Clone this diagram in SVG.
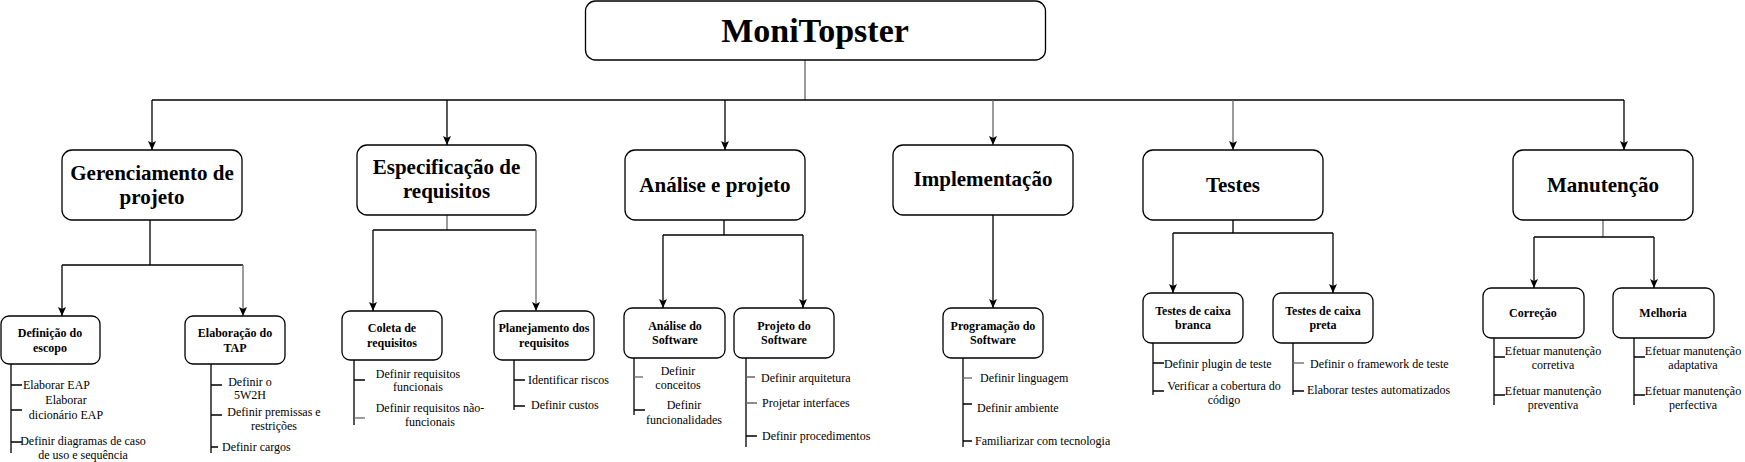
<svg xmlns="http://www.w3.org/2000/svg" width="1745" height="462" viewBox="0 0 1745 462">
<style>
text{font-family:"Liberation Serif","Times New Roman",serif;fill:#000}
.box{fill:#fff;stroke:#000;stroke-width:1.3}
.c{stroke:#000;stroke-width:1.3;fill:none}
.g{stroke:#666}
.t0{font-size:34px;font-weight:bold;text-anchor:middle}
.t1{font-size:21px;font-weight:bold;text-anchor:middle}
.t2{font-size:12px;font-weight:bold;text-anchor:middle}
.t3{font-size:12px}
.m{text-anchor:middle}
</style>
<defs>
<marker id="a" markerUnits="userSpaceOnUse" markerWidth="10" markerHeight="10" viewBox="0 0 10 10" refX="9" refY="5" orient="auto">
<path d="M0,1 L9,5 L0,9 L2,5 z" fill="#000"/>
</marker>
</defs>

<g id="connectors">
<path class="c g" d="M805,60 V100"/>
<path class="c" d="M152,100 H1624"/>
<path class="c" d="M152,100 V150" marker-end="url(#a)"/>
<path class="c" d="M447,100 V145" marker-end="url(#a)"/>
<path class="c" d="M725,100 V150" marker-end="url(#a)"/>
<path class="c g" d="M993,100 V145" marker-end="url(#a)"/>
<path class="c g" d="M1233,100 V150" marker-end="url(#a)"/>
<path class="c" d="M1624,100 V150" marker-end="url(#a)"/>

<path class="c" d="M150,220 V265 M62,265 H243"/>
<path class="c" d="M62,265 V316" marker-end="url(#a)"/>
<path class="c g" d="M243,265 V316" marker-end="url(#a)"/>

<path class="c g" d="M447,215 V230"/>
<path class="c" d="M373,230 H536"/>
<path class="c" d="M373,230 V311" marker-end="url(#a)"/>
<path class="c g" d="M536,230 V311" marker-end="url(#a)"/>

<path class="c" d="M724,220 V235 M663,235 H803"/>
<path class="c" d="M663,235 V308" marker-end="url(#a)"/>
<path class="c" d="M803,235 V308" marker-end="url(#a)"/>

<path class="c" d="M993,215 V308" marker-end="url(#a)"/>

<path class="c" d="M1233,220 V233 M1173,233 H1333"/>
<path class="c" d="M1173,233 V293" marker-end="url(#a)"/>
<path class="c" d="M1333,233 V293" marker-end="url(#a)"/>

<path class="c g" d="M1603,220 V237"/>
<path class="c" d="M1534,237 H1654"/>
<path class="c" d="M1534,237 V288" marker-end="url(#a)"/>
<path class="c" d="M1654,237 V288" marker-end="url(#a)"/>

<path class="c" d="M11,364 V453 M11,385 H22 M11,410 H22 M11,442 H22"/>
<path class="c" d="M211,364 V453 M211,385 H222 M211,415 H222 M211,447 H218"/>
<path class="c" d="M354,360 V425 M354,380 H365"/>
<path class="c g" d="M354,418 H365"/>
<path class="c" d="M514,360 V410 M514,380 H525 M514,406 H525"/>
<path class="c" d="M634,358 V415 M634,410 H645"/>
<path class="c g" d="M634,377 H643"/>
<path class="c" d="M746,358 V447 M746,436 H757"/>
<path class="c g" d="M746,377 H755 M746,403 H757"/>
<path class="c" d="M963,358 V447 M963,404 H972 M963,441 H972"/>
<path class="c g" d="M963,378 H972"/>
<path class="c" d="M1153,343 V395 M1153,363 H1164 M1153,391 H1164"/>
<path class="c" d="M1293,343 V395 M1293,391 H1304"/>
<path class="c g" d="M1293,363 H1304"/>
<path class="c" d="M1494,338 V405 M1494,357 H1505 M1494,395 H1505"/>
<path class="c" d="M1634,338 V405 M1634,357 H1645 M1634,395 H1645"/>
</g>

<g id="root">
<rect class="box" x="585.5" y="1" width="460" height="59" rx="10"/>
<text class="t0" x="815" y="42">MoniTopster</text>
</g>

<g id="gerenciamento">
<rect class="box" x="62" y="150" width="180" height="70" rx="10"/>
<text class="t1" x="152" y="180">Gerenciamento de</text>
<text class="t1" x="152" y="204">projeto</text>
</g>
<g id="especificacao">
<rect class="box" x="357" y="145" width="179" height="70" rx="10"/>
<text class="t1" x="446.5" y="174">Especificação de</text>
<text class="t1" x="446.5" y="198">requisitos</text>
</g>
<g id="analise">
<rect class="box" x="625" y="150" width="180" height="70" rx="10"/>
<text class="t1" x="715" y="192">Análise e projeto</text>
</g>
<g id="implementacao">
<rect class="box" x="893" y="145" width="180" height="70" rx="10"/>
<text class="t1" x="983" y="186">Implementação</text>
</g>
<g id="testes">
<rect class="box" x="1143" y="150" width="180" height="70" rx="10"/>
<text class="t1" x="1233" y="192">Testes</text>
</g>
<g id="manutencao">
<rect class="box" x="1513" y="150" width="180" height="70" rx="10"/>
<text class="t1" x="1603" y="192">Manutenção</text>
</g>

<g id="definicao-escopo">
<rect class="box" x="1" y="316" width="99" height="48" rx="8"/>
<text class="t2" x="50" y="337">Definição do</text>
<text class="t2" x="50" y="352">escopo</text>
<text class="t3" x="23" y="389">Elaborar EAP</text>
<text class="t3 m" x="66" y="404">Elaborar</text>
<text class="t3 m" x="66" y="419">dicionário EAP</text>
<text class="t3 m" x="83" y="445">Definir diagramas de caso</text>
<text class="t3 m" x="83" y="459">de uso e sequência</text>
</g>
<g id="elaboracao-tap">
<rect class="box" x="185" y="316" width="100" height="48" rx="8"/>
<text class="t2" x="235" y="337">Elaboração do</text>
<text class="t2" x="235" y="352">TAP</text>
<text class="t3 m" x="250" y="386">Definir o</text>
<text class="t3 m" x="250" y="399">5W2H</text>
<text class="t3 m" x="274" y="416">Definir premissas e</text>
<text class="t3 m" x="274" y="430">restrições</text>
<text class="t3" x="222" y="451">Definir cargos</text>
</g>

<g id="coleta">
<rect class="box" x="342" y="311" width="100" height="49" rx="8"/>
<text class="t2" x="392" y="332">Coleta de</text>
<text class="t2" x="392" y="347">requisitos</text>
<text class="t3 m" x="418" y="378">Definir requisitos</text>
<text class="t3 m" x="418" y="391">funcionais</text>
<text class="t3 m" x="430" y="412">Definir requisitos não-</text>
<text class="t3 m" x="430" y="426">funcionais</text>
</g>
<g id="planejamento">
<rect class="box" x="494" y="311" width="100" height="49" rx="8"/>
<text class="t2" x="544" y="332">Planejamento dos</text>
<text class="t2" x="544" y="347">requisitos</text>
<text class="t3" x="528" y="384">Identificar riscos</text>
<text class="t3" x="531" y="409">Definir custos</text>
</g>

<g id="analise-software">
<rect class="box" x="624" y="308" width="101" height="50" rx="8"/>
<text class="t2" x="675" y="330">Análise do</text>
<text class="t2" x="675" y="344">Software</text>
<text class="t3 m" x="678" y="375">Definir</text>
<text class="t3 m" x="678" y="389">conceitos</text>
<text class="t3 m" x="684" y="409">Definir</text>
<text class="t3 m" x="684" y="424">funcionalidades</text>
</g>
<g id="projeto-software">
<rect class="box" x="734" y="308" width="100" height="50" rx="8"/>
<text class="t2" x="784" y="330">Projeto do</text>
<text class="t2" x="784" y="344">Software</text>
<text class="t3" x="761" y="382">Definir arquitetura</text>
<text class="t3" x="762" y="407">Projetar interfaces</text>
<text class="t3" x="762" y="440">Definir procedimentos</text>
</g>

<g id="programacao">
<rect class="box" x="943" y="308" width="100" height="50" rx="8"/>
<text class="t2" x="993" y="330">Programação do</text>
<text class="t2" x="993" y="344">Software</text>
<text class="t3" x="980" y="382">Definir linguagem</text>
<text class="t3" x="977" y="412">Definir ambiente</text>
<text class="t3" x="975" y="445">Familiarizar com tecnologia</text>
</g>

<g id="caixa-branca">
<rect class="box" x="1143" y="293" width="100" height="50" rx="8"/>
<text class="t2" x="1193" y="315">Testes de caixa</text>
<text class="t2" x="1193" y="329">branca</text>
<text class="t3" x="1164" y="368">Definir plugin de teste</text>
<text class="t3 m" x="1224" y="390">Verificar a cobertura do</text>
<text class="t3 m" x="1224" y="404">código</text>
</g>
<g id="caixa-preta">
<rect class="box" x="1273" y="293" width="100" height="50" rx="8"/>
<text class="t2" x="1323" y="315">Testes de caixa</text>
<text class="t2" x="1323" y="329">preta</text>
<text class="t3" x="1310" y="368">Definir o framework de teste</text>
<text class="t3" x="1307" y="394">Elaborar testes automatizados</text>
</g>

<g id="correcao">
<rect class="box" x="1483" y="288" width="101" height="50" rx="8"/>
<text class="t2" x="1533" y="317">Correção</text>
<text class="t3 m" x="1553" y="355">Efetuar manutenção</text>
<text class="t3 m" x="1553" y="369">corretiva</text>
<text class="t3 m" x="1553" y="395">Efetuar manutenção</text>
<text class="t3 m" x="1553" y="409">preventiva</text>
</g>
<g id="melhoria">
<rect class="box" x="1613" y="288" width="101" height="50" rx="8"/>
<text class="t2" x="1663" y="317">Melhoria</text>
<text class="t3 m" x="1693" y="355">Efetuar manutenção</text>
<text class="t3 m" x="1693" y="369">adaptativa</text>
<text class="t3 m" x="1693" y="395">Efetuar manutenção</text>
<text class="t3 m" x="1693" y="409">perfectiva</text>
</g>
</svg>
